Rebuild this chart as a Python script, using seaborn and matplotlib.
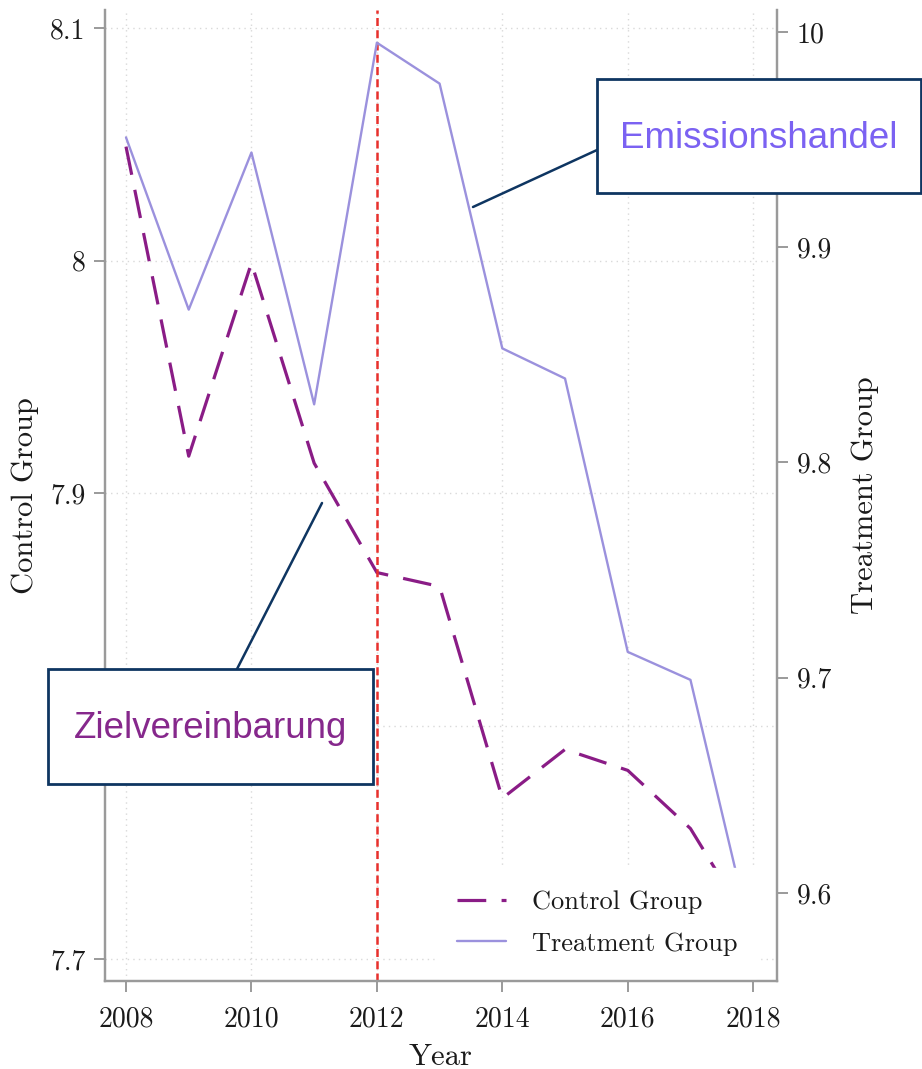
import numpy as np
import pandas as pd
import matplotlib
matplotlib.use("Agg")
import matplotlib.pyplot as plt
import seaborn as sns
from matplotlib.patches import Rectangle
from matplotlib.lines import Line2D

# ---- data ----
years = [2008, 2009, 2010, 2011, 2012, 2013, 2014, 2015, 2016, 2017, 2018]
control = [8.049, 7.916, 7.999, 7.913, 7.866, 7.860, 7.769, 7.790, 7.781, 7.756, 7.712]
treatment = [9.951, 9.871, 9.944, 9.827, 9.995, 9.976, 9.853, 9.839, 9.712, 9.699, 9.576]
policy_year = 2012
x_ticks = [2008, 2010, 2012, 2014, 2016, 2018]
left_ticks = [7.7, 7.8, 7.9, 8.0, 8.1]
left_labels = ["7.7", "", "7.9", "8", "8.1"]   # 7.8 is hidden behind the annotation box
right_ticks = [9.6, 9.7, 9.8, 9.9, 10.0]
right_labels = ["9.6", "9.7", "9.8", "9.9", "10"]
series_names = ["Control Group", "Treatment Group"]
annot_texts = ["Emissionshandel", "Zielvereinbarung"]

sns.set_style("white")
plt.rcParams["font.family"] = ["cmr10", "DejaVu Serif"]
plt.rcParams["axes.formatter.use_mathtext"] = True

W, H = 922, 1069
fig = plt.figure(figsize=(W / 100, H / 100), dpi=100)
ax = fig.add_axes([105 / W, 1 - 981 / H, (777 - 105) / W, (981 - 10) / H])
ax2 = ax.twinx()

c_control = "#8a1c86"
c_treat = "#9b91dd"
spine_c = "#9a9a9a"

df = pd.DataFrame({"Year": years, "control": control, "treatment": treatment})
sns.lineplot(data=df, x="Year", y="control", ax=ax, color=c_control, linewidth=2.3)
lc = ax.lines[-1]
lc.set_dashes((9, 4.8))
sns.lineplot(data=df, x="Year", y="treatment", ax=ax2, color=c_treat, linewidth=1.7)
lt = ax2.lines[-1]

ax.axvline(policy_year, color="#e8302c", linewidth=1.8, dashes=(3.2, 1.7), zorder=5)

ax.set_xlim(2007.665, 2018.38)
ax.set_ylim(7.6905, 8.1077)
ax2.set_ylim(9.5591, 10.0102)

ax.set_xticks(x_ticks)
ax.set_xticklabels([str(t) for t in x_ticks])
ax.set_yticks(left_ticks)
ax.set_yticklabels(left_labels)
ax2.set_yticks(right_ticks)
ax2.set_yticklabels(right_labels)

ax.grid(True, linestyle=(0, (1, 3)), color="#d9d9d9", linewidth=1.0)
ax2.grid(False)

for a in (ax, ax2):
    a.spines["top"].set_visible(False)
    for s in ("left", "right", "bottom"):
        a.spines[s].set_color(spine_c)
        a.spines[s].set_linewidth(1.6)
        a.spines[s].set_zorder(30)
    a.tick_params(axis="both", colors=spine_c, labelcolor="#1a1a1a",
                  labelsize=20, length=8, width=1.4, direction="out", pad=6)
ax.tick_params(axis="y", left=True, right=False)
ax2.tick_params(axis="y", right=True, left=False)
ax.tick_params(axis="x", bottom=True, pad=10)

ax.set_xlabel("Year", fontsize=22, color="#1a1a1a", labelpad=8)
ax.set_ylabel(series_names[0], fontsize=22, color="#1a1a1a", labelpad=8)
ax2.set_ylabel(series_names[1], fontsize=22, color="#1a1a1a", labelpad=14)

leg = ax2.legend([lc, lt], series_names, loc="lower right",
                 bbox_to_anchor=(0.975, 0.003), borderaxespad=0.0,
                 frameon=True, facecolor="white", edgecolor="white", framealpha=1.0,
                 fontsize=19, handlelength=1.85, handletextpad=1.0,
                 labelspacing=0.68, borderpad=0.85)
leg.set_zorder(10)
for t in leg.get_texts():
    t.set_color("#1a1a1a")

# ---- annotation boxes (figure pixel coords) ----
def fx(x):
    return x / W

def fy(y):
    return 1 - y / H

navy = "#0e3561"
boxes = [
    (597, 79, 921, 193, annot_texts[0], "#7b62f2", (597, 150), (473, 207)),
    (48, 669, 373, 784, annot_texts[1], "#86288c", (237, 669), (322, 503)),
]
for x0, y0, x1, y1, txt, col, p0, p1 in boxes:
    fig.add_artist(Line2D([fx(p0[0]), fx(p1[0])], [fy(p0[1]), fy(p1[1])],
                          transform=fig.transFigure, color=navy, linewidth=1.8, zorder=40))
    fig.add_artist(Rectangle((fx(x0), fy(y1)), fx(x1) - fx(x0), fy(y0) - fy(y1),
                             transform=fig.transFigure, facecolor="white",
                             edgecolor=navy, linewidth=2.0, zorder=41))
    fig.text(fx((x0 + x1) / 2), fy((y0 + y1) / 2 + 2), txt, ha="center", va="center",
             fontsize=26.5, color=col, family="Liberation Sans", zorder=42)

fig.savefig("out.png", dpi=100, facecolor="white")
